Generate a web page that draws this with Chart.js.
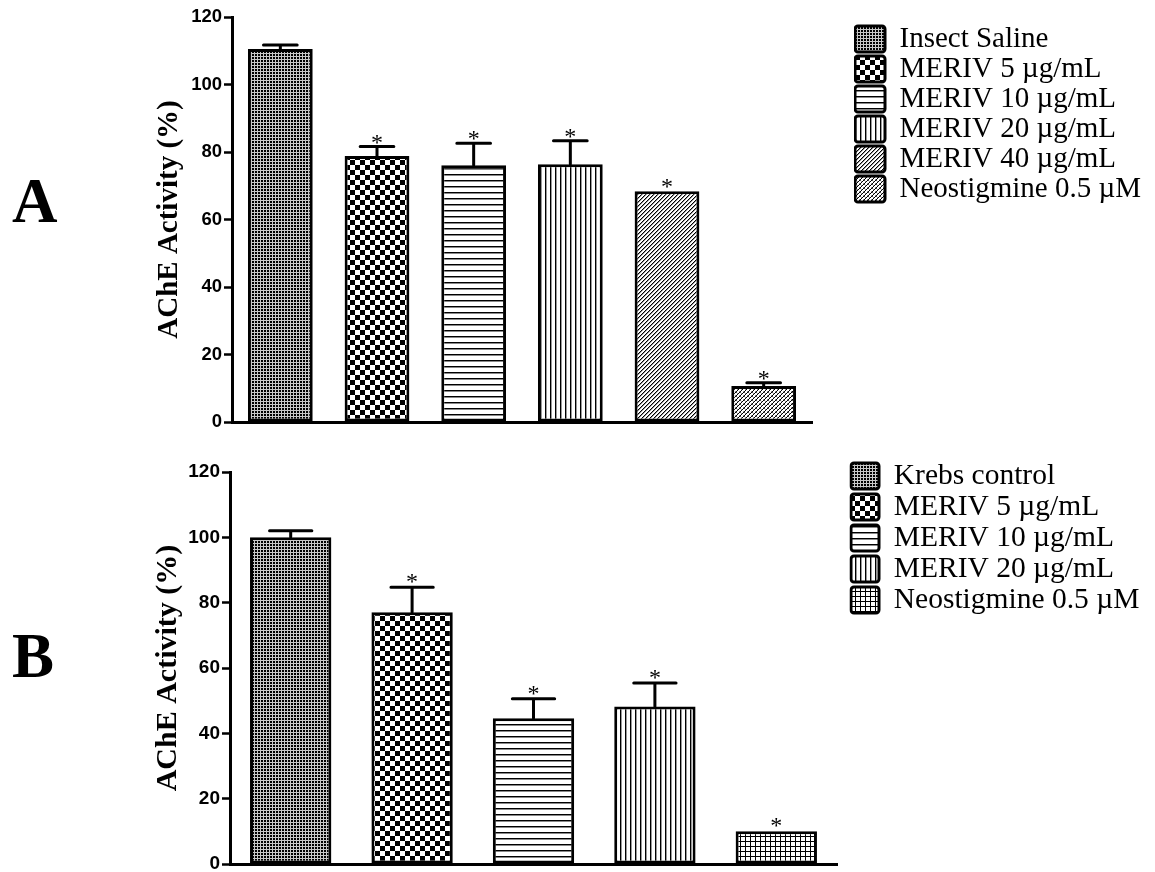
<!DOCTYPE html>
<html><head><meta charset="utf-8">
<script src="https://cdn.jsdelivr.net/npm/chart.js@4"></script>
<style>
html,body{margin:0;padding:0;background:#fff;}
#wrap{position:relative;width:1155px;height:872px;overflow:hidden;}
canvas{position:absolute;left:0;}
#cA{top:0;} #cB{top:436px;}
</style></head>
<body><div id="wrap"><canvas id="cA" width="1155" height="436"></canvas><canvas id="cB" width="1155" height="436"></canvas></div>
<script>
// ---- data ----
const labelsA = ['Insect Saline','MERIV 5 µg/mL','MERIV 10 µg/mL','MERIV 20 µg/mL','MERIV 40 µg/mL','Neostigmine 0.5 µM'];
const valuesA = [110.5, 78.8, 76.1, 76.4, 68.4, 10.7];
const semA    = [1.2, 2.8, 6.5, 6.9, 0, 0.9];
const sigA    = [false, true, true, true, true, true];

const labelsB = ['Krebs control','MERIV 5 µg/mL','MERIV 10 µg/mL','MERIV 20 µg/mL','Neostigmine 0.5 µM'];
const valuesB = [100.0, 77.1, 44.6, 48.2, 10.0];
const semB    = [2.0, 7.6, 6.0, 7.2, 0];
const sigB    = [false, true, true, true, true];

const yTicks = [0, 20, 40, 60, 80, 100, 120];
const yTitle = 'AChE Activity (%)';

// ---- fill patterns ----
function pattern(w, h, draw){
  const c = document.createElement('canvas'); c.width = w; c.height = h;
  const g = c.getContext('2d'); g.fillStyle = '#fff'; g.fillRect(0,0,w,h); draw(g);
  return g.createPattern(c, 'repeat');
}
const P = {
  fine: pattern(3,3,g=>{g.fillStyle='#c8c8c8';g.fillRect(0,0,3,3);g.fillStyle='#000';g.fillRect(0,0,2,2);}),
  check: pattern(10,10,g=>{g.fillStyle='#000';g.fillRect(0,0,5,5);g.fillRect(5,5,5,5);}),
  hline: pattern(6,6,g=>{g.fillStyle='#000';g.fillRect(0,0,6,1);g.fillStyle='#888';g.fillRect(0,1,6,1);}),
  vline: pattern(5,5,g=>{g.fillStyle='#000';g.fillRect(0,0,1,5);g.fillStyle='#999';g.fillRect(1,0,1,5);}),
  diag: pattern(4,4,g=>{g.fillStyle='#000';for(let i=0;i<4;i++)g.fillRect(3-i,i,1,1);g.fillStyle='#999';for(let i=0;i<4;i++)g.fillRect((4-i)%4,i,1,1);}),
  cross: pattern(4,4,g=>{g.fillStyle='#000';for(let i=0;i<4;i++)g.fillRect(3-i,i,1,1);g.fillStyle='#999';g.fillRect(1,1,1,1);g.fillRect(3,3,1,1);g.fillStyle='#555';g.fillRect(0,0,1,1);}),
  grid: pattern(5,5,g=>{g.fillStyle='#000';g.fillRect(0,0,5,1);g.fillRect(0,0,1,5);})
};
const fillsA = [P.fine, P.check, P.hline, P.vline, P.diag, P.cross];
const fillsB = [P.fine, P.check, P.hline, P.vline, P.grid];

// ---- error bars, asterisks, panel letter ----
const errPlugin = {
  id: 'err',
  afterDatasetsDraw(chart, args, o){
    const ctx = chart.ctx, y = chart.scales.y, meta = chart.getDatasetMeta(0);
    const vals = chart.data.datasets[0].data;
    ctx.save();
    ctx.strokeStyle = '#000'; ctx.lineWidth = 3; ctx.lineCap = 'round';
    meta.data.forEach((bar, i) => {
      const yTop = y.getPixelForValue(vals[i]);
      const yCap = y.getPixelForValue(vals[i] + o.sem[i]);
      if (o.sem[i] > 0) {
        const half = bar.width * 0.26;
        ctx.beginPath();
        ctx.moveTo(bar.x, yTop); ctx.lineTo(bar.x, yCap);
        ctx.moveTo(bar.x - half, yCap); ctx.lineTo(bar.x + half, yCap);
        ctx.stroke();
      }
      if (o.sig[i]) {
        ctx.fillStyle = '#000'; ctx.font = '24px "Liberation Serif"';
        ctx.textAlign = 'center'; ctx.textBaseline = 'alphabetic';
        ctx.fillText('*', bar.x, yCap + o.starOff);
      }
    });
    ctx.fillStyle = '#000'; ctx.font = 'bold 63px "Liberation Serif"';
    ctx.textAlign = 'left'; ctx.textBaseline = 'alphabetic';
    ctx.fillText(o.letter, o.lx, o.ly);
    ctx.restore();
  }
};

function build(id, labels, values, sem, sig, fills, L){
  const chart = new Chart(document.getElementById(id), {
    type: 'bar',
    data: { labels, datasets: [{ data: values, backgroundColor: fills, borderColor: '#000', borderWidth: 3,
      borderSkipped: false, barPercentage: 0.67, categoryPercentage: 1 }] },
    options: {
      responsive: false, animation: false, devicePixelRatio: 1,
      layout: { padding: { left: L.left, top: 10, right: 0, bottom: L.bottom } },
      scales: {
        x: { grid: { display: false }, ticks: { display: false },
             border: { display: true, color: '#000', width: 3 },
             afterFit(s){ s.height = 0; } },
        y: { min: 0, max: 120,
             afterBuildTicks(s){ s.ticks = yTicks.map(v => ({ value: v })); },
             grid: { display: true, drawOnChartArea: false, drawTicks: true, tickLength: 8, tickWidth: 2.5, tickColor: '#000', color: '#000' },
             border: { display: true, color: '#000', width: 3 },
             ticks: { padding: 2, color: '#000', font: { family: 'Liberation Sans', weight: 'bold', size: L.tickSize } },
             title: { display: true, text: yTitle, color: '#000', padding: 0,
                      font: { family: 'Liberation Serif', weight: 'bold', size: L.titleSize } },
             afterFit(s){ s.width = L.yW; s.paddingTop = 0; s.paddingBottom = 0; } },
        yR: { position: 'right', min: 0, max: 120, display: true,
              grid: { display: false, drawTicks: false }, border: { display: false }, ticks: { display: false },
              afterFit(s){ s.width = L.dummyW; s.paddingTop = L.top; s.paddingBottom = 0; } }
      },
      plugins: {
        tooltip: { enabled: false },
        legend: {
          position: 'right', align: 'start', maxWidth: 500, onClick: () => {},
          title: { display: true, text: ' ', font: { size: 1 }, padding: { top: L.legTitle, bottom: 0 } },
          labels: {
            boxWidth: L.boxW, boxHeight: 26, padding: L.legPad, useBorderRadius: true, borderRadius: 3,
            color: '#000', font: { family: 'Liberation Serif', size: L.legFont },
            generateLabels: ch => ch.data.labels.map((t, i) => ({
              text: t, fillStyle: ch.data.datasets[0].backgroundColor[i], strokeStyle: '#000',
              lineWidth: 3, borderRadius: 3, hidden: false, index: i, fontColor: '#000'
            }))
          }
        },
        err: { sem, sig, letter: L.letter, lx: 12, ly: L.ly, starOff: L.starOff }
      }
    },
    plugins: [errPlugin]
  });
  // shift the legend so its left edge lands where the reference has it
  for (let k = 0; k < 4; k++) {
    const d = L.legLeft - chart.legend.left;
    if (Math.abs(d) < 0.25) break;
    chart.options.layout.padding.right -= d;
    chart.update();
  }
  return chart;
}

build('cA', labelsA, valuesA, semA, sigA, fillsA, {
  left: 152.6, yW: 79.4, top: 17, bottom: 14, dummyW: 42, legLeft: 854,
  tickSize: 18.5, titleSize: 29, legTitle: 12.3, legPad: 1, legFont: 29, boxW: 30,
  letter: 'A', ly: 222, starOff: 3
});
build('cB', labelsB, valuesB, semB, sigB, fillsB, {
  left: 150, yW: 80, top: 36, bottom: 8, dummyW: 12.5, legLeft: 849.5,
  tickSize: 19, titleSize: 30, legTitle: 12.5, legPad: 1.5, legFont: 29.5, boxW: 28,
  letter: 'B', ly: 241, starOff: 2
});
</script></body></html>
